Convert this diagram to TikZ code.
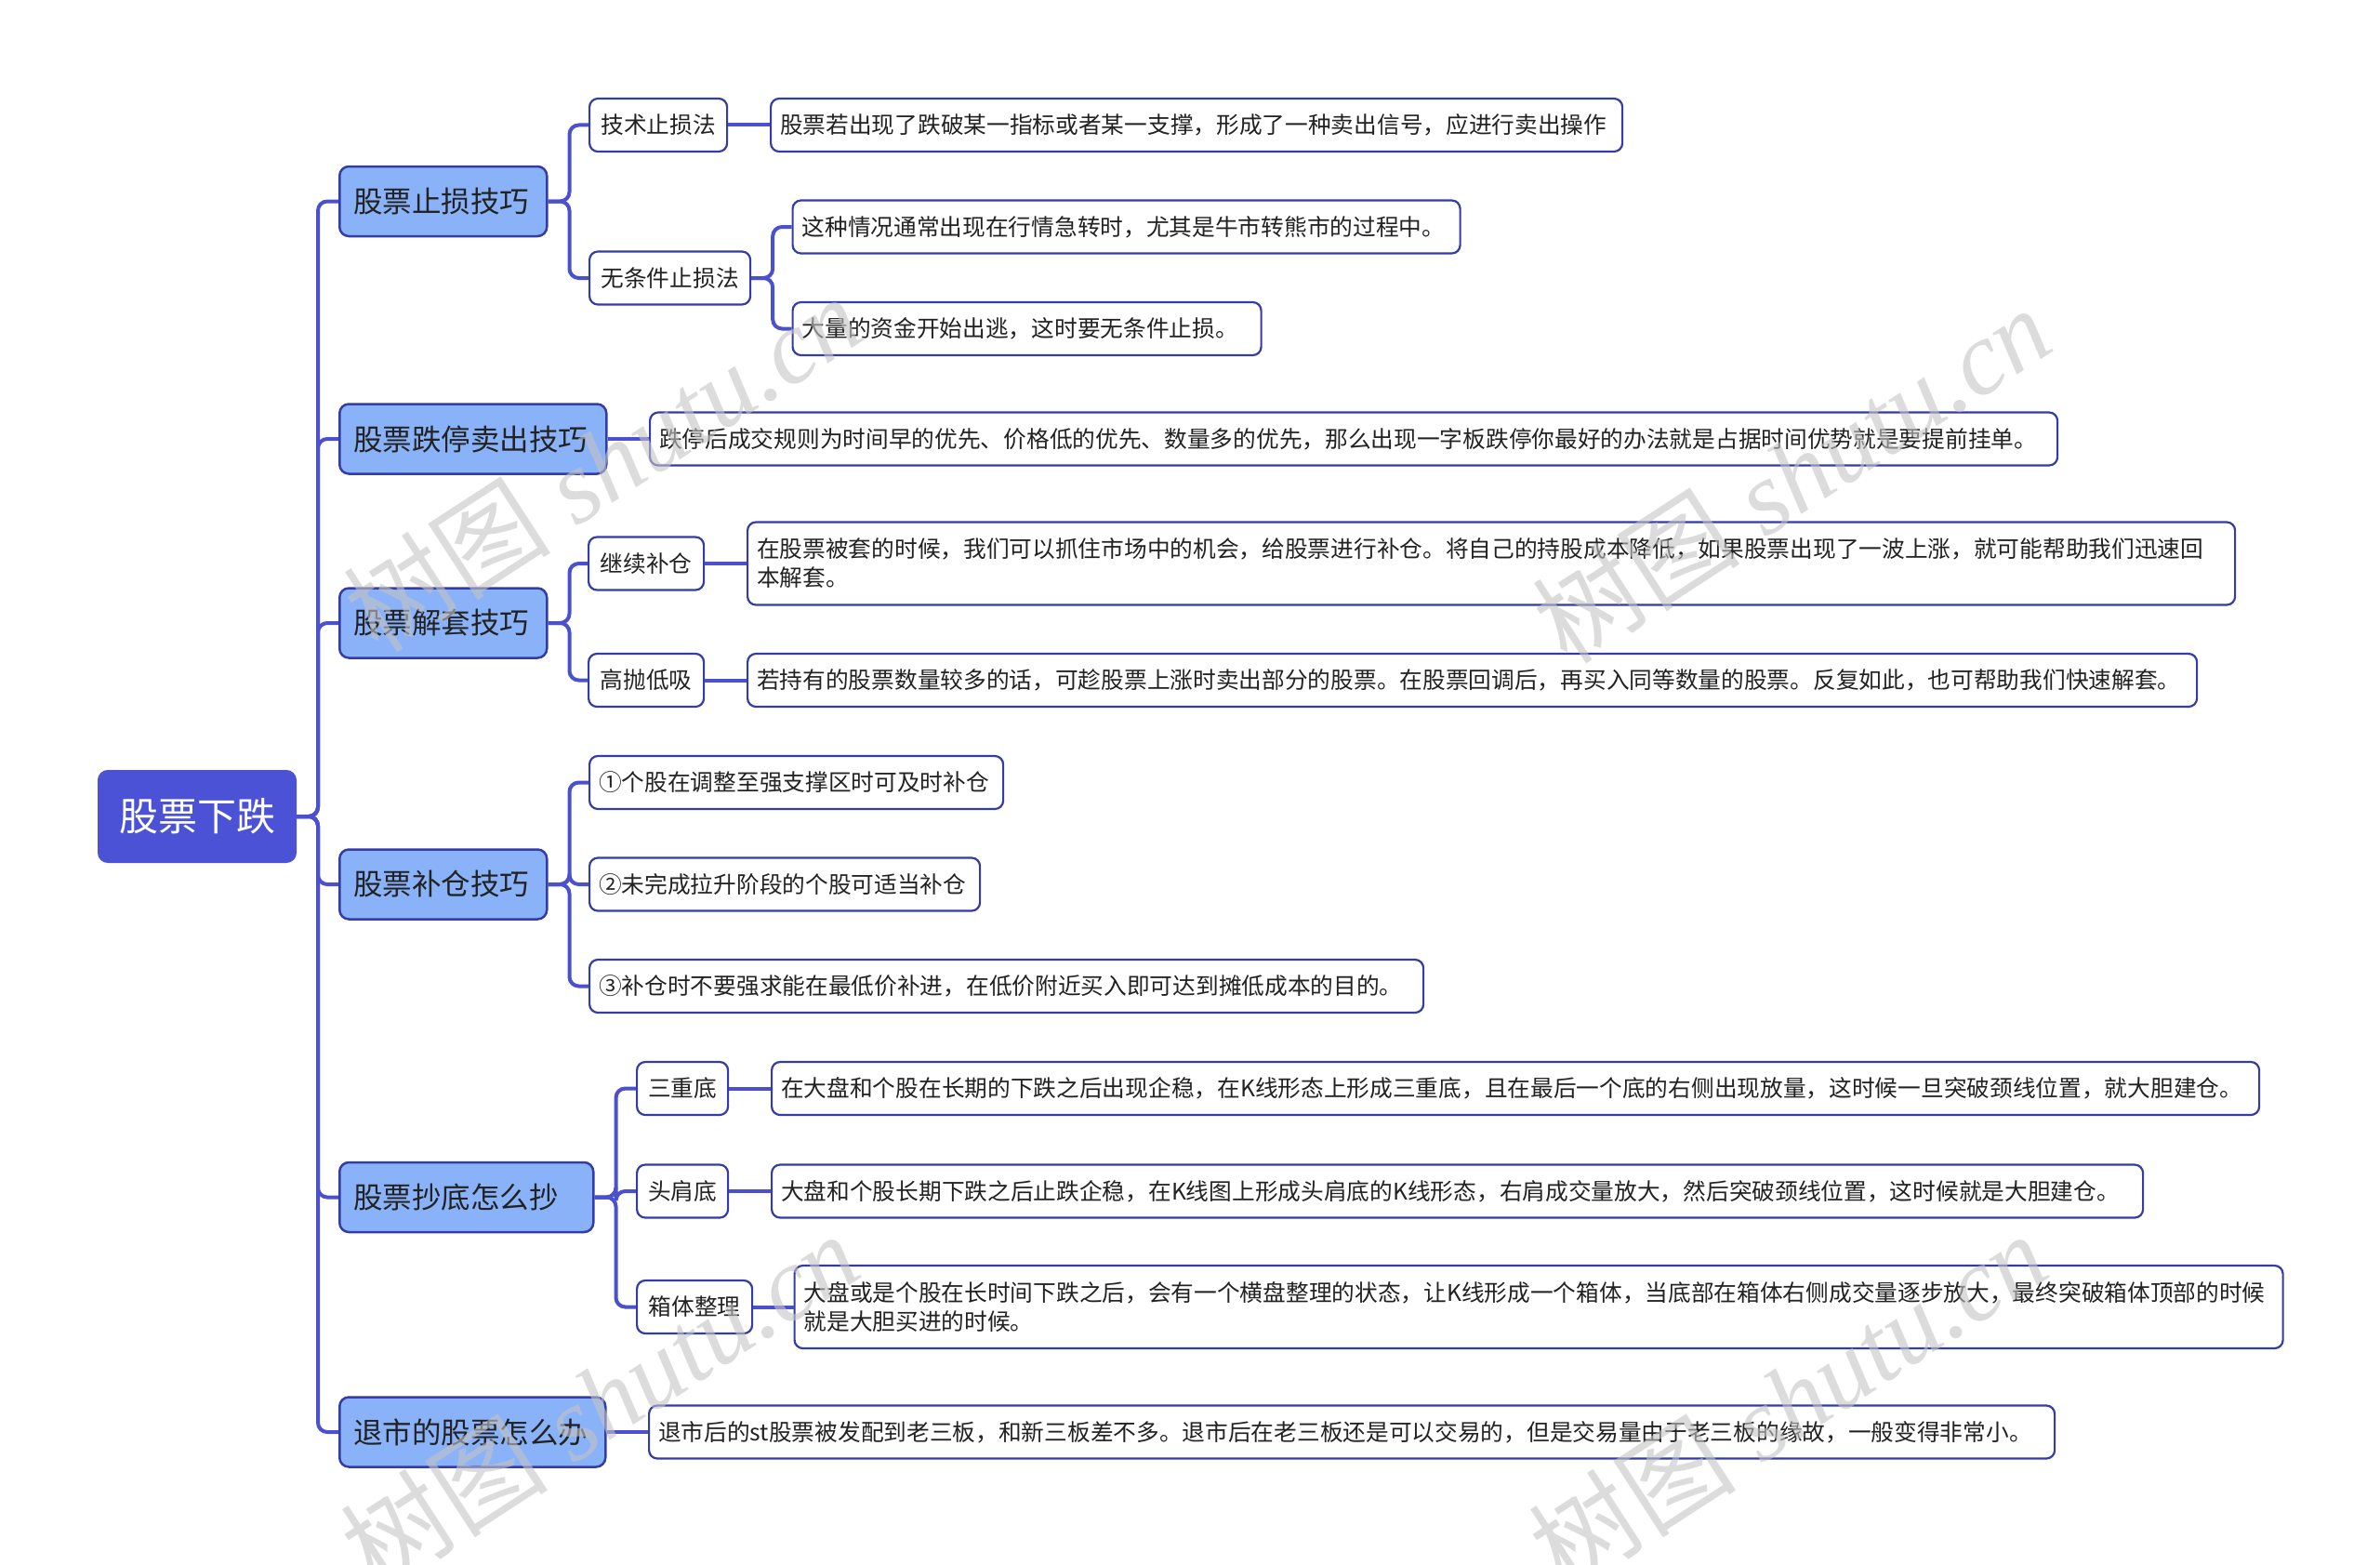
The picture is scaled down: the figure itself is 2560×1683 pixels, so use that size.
\documentclass[tikz,border=0pt]{standalone}
\usepackage{fontspec}
\newfontfamily\cjk{Noto Sans CJK SC}
\newfontfamily\wmserif{Liberation Serif}
\definecolor{rootc}{RGB}{75,82,214}
\definecolor{lonec}{RGB}{138,178,248}
\definecolor{bordc}{RGB}{52,60,168}
\definecolor{connc}{RGB}{74,80,206}
\definecolor{txtc}{RGB}{34,34,34}
\definecolor{wmc}{RGB}{196,196,196}
\begin{document}
\begin{tikzpicture}[x=1pt,y=-1pt,
  base/.style={font=\cjk, text=txtc, inner ysep=0pt},
  rootbox/.style={base, fill=rootc, draw=rootc, line width=2, rounded corners=10, text=white,
    font=\cjk\fontsize{42}{50}\selectfont, minimum width=212, minimum height=98, inner xsep=0},
  lonebox/.style={base, fill=lonec, draw=bordc, line width=2.5, rounded corners=10,
    font=\cjk\fontsize{31.5}{38}\selectfont, minimum height=75, inner xsep=15, align=left, anchor=west},
  ltwobox/.style={base, fill=white, draw=bordc, line width=2.2, rounded corners=9,
    font=\cjk\fontsize{24.7}{31}\selectfont, minimum height=57, inner xsep=0, anchor=west},
  leafbox/.style={ltwobox, inner xsep=10, align=left},
  conn/.style={draw=connc, line width=4, rounded corners=10},
  wm/.style={font=\wmserif\itshape\fontsize{112}{112}\selectfont, text=wmc, text opacity=0.6, rotate=33}
]
\useasboundingbox (0,0) rectangle (2560,1683);

% root
\node[rootbox] (root) at (212,878) {股票下跌};

% level 1
\node[lonebox, text width=193] (s1) at (364,216.5) {股票止损技巧};
\node[lonebox, text width=257] (s2) at (364,472) {股票跌停卖出技巧};
\node[lonebox, text width=193] (s3) at (364,670) {股票解套技巧};
\node[lonebox, text width=193] (s4) at (364,951) {股票补仓技巧};
\node[lonebox, text width=243] (s5) at (364,1287.5) {股票抄底怎么抄};
\node[lonebox, text width=256] (s6) at (364,1540) {退市的股票怎么办};

% level 2
\node[ltwobox, minimum width=148] (a1) at (633,134.5) {技术止损法};
\node[ltwobox, minimum width=173] (a2) at (633,299) {无条件止损法};
\node[ltwobox, minimum width=124] (c1) at (632,606) {继续补仓};
\node[ltwobox, minimum width=124] (c2) at (632,731.5) {高抛低吸};
\node[leafbox, text width=425] (d1) at (633,841.5) {①个股在调整至强支撑区时可及时补仓};
\node[leafbox, text width=400] (d2) at (633,951) {②未完成拉升阶段的个股可适当补仓};
\node[leafbox, text width=877] (d3) at (633,1060.5) {③补仓时不要强求能在最低价补进，在低价附近买入即可达到摊低成本的目的。};
\node[ltwobox, minimum width=98] (e1) at (684,1170.5) {三重底};
\node[ltwobox, minimum width=98] (e2) at (684,1281) {头肩底};
\node[ltwobox, minimum width=124] (e3) at (684,1405.5) {箱体整理};

% leaves
\node[leafbox, text width=896] (a1L) at (828,134.5) {股票若出现了跌破某一指标或者某一支撑，形成了一种卖出信号，应进行卖出操作};
\node[leafbox, text width=698] (a2La) at (851.5,244) {这种情况通常出现在行情急转时，尤其是牛市转熊市的过程中。};
\node[leafbox, text width=484] (a2Lb) at (851.5,353.5) {大量的资金开始出逃，这时要无条件止损。};
\node[leafbox, text width=1494] (bL) at (698,472) {跌停后成交规则为时间早的优先、价格低的优先、数量多的优先，那么出现一字板跌停你最好的办法就是占据时间优势就是要提前挂单。};
\node[leafbox, text width=1580, minimum height=89] (c1L) at (803,606) {在股票被套的时候，我们可以抓住市场中的机会，给股票进行补仓。将自己的持股成本降低，如果股票出现了一波上涨，就可能帮助我们迅速回\\本解套。};
\node[leafbox, text width=1539] (c2L) at (803,731.5) {若持有的股票数量较多的话，可趁股票上涨时卖出部分的股票。在股票回调后，再买入同等数量的股票。反复如此，也可帮助我们快速解套。};
\node[leafbox, text width=1580] (e1L) at (829,1170.5) {在大盘和个股在长期的下跌之后出现企稳，在K线形态上形成三重底，且在最后一个底的右侧出现放量，这时候一旦突破颈线位置，就大胆建仓。};
\node[leafbox, text width=1455] (e2L) at (829,1281) {大盘和个股长期下跌之后止跌企稳，在K线图上形成头肩底的K线形态，右肩成交量放大，然后突破颈线位置，这时候就是大胆建仓。};
\node[leafbox, text width=1581, minimum height=89] (e3L) at (853.5,1405.5) {大盘或是个股在长时间下跌之后，会有一个横盘整理的状态，让K线形成一个箱体，当底部在箱体右侧成交量逐步放大，最终突破箱体顶部的时候\\就是大胆买进的时候。};
\node[leafbox, text width=1492] (fL) at (697,1540) {退市后的st股票被发配到老三板，和新三板差不多。退市后在老三板还是可以交易的，但是交易量由于老三板的缘故，一般变得非常小。};

% connectors: parents with several children
\foreach \p/\c in {root/s1,root/s2,root/s3,root/s4,root/s5,root/s6,
  s1/a1,s1/a2,a2/a2La,a2/a2Lb,s3/c1,s3/c2,
  s4/d1,s4/d2,s4/d3,s5/e1,s5/e2,s5/e3}
  \draw[conn] (\p.east) -- ++(23,0) |- (\c.west);
% connectors: single child, straight
\foreach \p/\c in {a1/a1L,s2/bL,c1/c1L,c2/c2L,e1/e1L,e2/e2L,e3/e3L,s6/fL}
  \draw[conn] (\p.east) -- (\c.west);

% watermarks
\node[wm] (w1) at (648,498) {{\cjk 树图} shutu.cn};
\node[wm] (w2) at (1927,510) {{\cjk 树图} shutu.cn};
\node[wm] (w3) at (645,1506) {{\cjk 树图} shutu.cn};
\node[wm] (w4) at (1923,1506) {{\cjk 树图} shutu.cn};
\end{tikzpicture}
\end{document}
